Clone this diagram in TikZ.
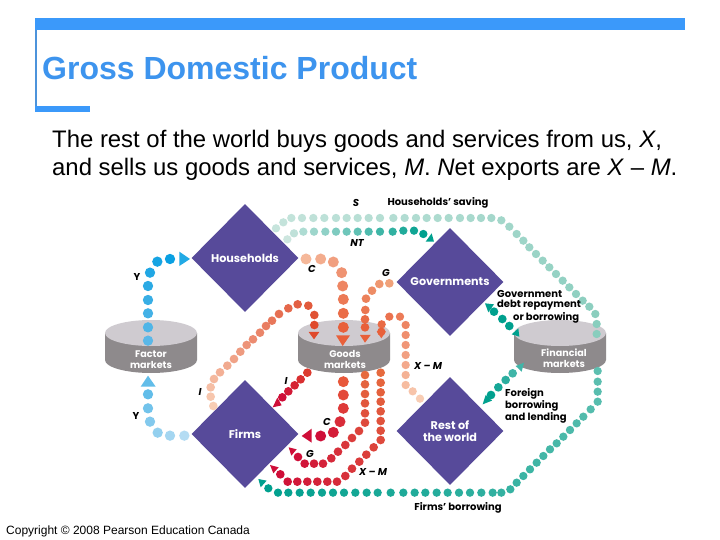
\documentclass[tikz,border=0pt]{standalone}
\usepackage{fontspec}
\setmainfont{Liberation Sans}
\newfontfamily\dg{Poppins}
\usetikzlibrary{shapes.geometric}
\definecolor{barblue}{HTML}{3B99FA}
\definecolor{titleblue}{HTML}{3D94EE}
\definecolor{dmdpurple}{HTML}{574A9A}
\definecolor{cyltop}{HTML}{CFCBD0}
\definecolor{cylside}{HTML}{8E8A8C}
\newcount\chaintotal
% radius, start colour, end colour, point list
\newcommand\chain[4]{%
  \global\chaintotal=0
  \foreach \p in {#4}{\global\advance\chaintotal by 1}%
  \foreach \p [count=\i] in {#4}{%
    \pgfmathtruncatemacro\t{100*(\i-1)/max(1,\the\chaintotal-1)}%
    \fill[#3!\t!#2] \p circle[radius=#1];}%
}
\newcommand\cyl[2]{% x centre, name
  \fill[cylside] (#1-46,333) -- (#1-46,360) arc[start angle=180,end angle=0,x radius=46,y radius=13] -- (#1+46,333) -- cycle;
  \fill[cyltop] (#1,333) ellipse[x radius=46,y radius=13];
}
\tikzset{
  dmd/.style={diamond,aspect=1,fill=dmdpurple,text=white,inner sep=0pt,minimum width=107pt,minimum height=108pt,align=center,font=\dg\bfseries\fontsize{11.2}{13}\selectfont},
  cyllabel/.style={text=white,align=center,inner sep=0pt,font=\dg\bfseries\fontsize{9.6}{11}\selectfont},
  lab/.style={inner sep=0pt,text=black,font=\dg\bfseries\fontsize{10}{12}\selectfont},
  vlab/.style={lab,font=\dg\bfseries\itshape\fontsize{10}{12}\selectfont},
  body/.style={inner sep=0pt,anchor=base west,font=\fontsize{23.9}{26}\selectfont},
}
\begin{document}
\begin{tikzpicture}[x=1pt,y=-1pt]
\useasboundingbox (0,0) rectangle (720,540);
\fill[white] (0,0) rectangle (720,540);
% frame
\fill[barblue] (35,18) rectangle (685,30);
\fill[barblue!75!gray] (35,30) rectangle (37,106);
\fill[barblue] (35,106) rectangle (90,112);
\node[inner sep=0pt,anchor=base west,text=titleblue,font=\bfseries\fontsize{32}{34}\selectfont] (title) at (42,80) {Gross Domestic Product};
\node[body] (line1) at (52,148) {The rest of the world buys goods and services from us, \textit{X},};
\node[body] (line2) at (52,176) {and sells us goods and services, \textit{M}. \textit{N}et exports are \textit{X} – \textit{M}.};
\node[inner sep=0pt,anchor=base west,font=\fontsize{12}{14}\selectfont] (copy) at (6,534) {Copyright © 2008 Pearson Education Canada};
% cylinders
\cyl{151}{f}
\cyl{344}{g}
\cyl{560}{n}
% diamonds
\node[dmd] (hh) at (245,258) {Households};
\node[dmd] (gv) at (450,282) {Governments};
\node[dmd] (fm) at (245,434) {Firms};
\node[dmd] (rw) at (450,431) {\raisebox{-2.5pt}{\shortstack{Rest of\\the world}}};
% flows, in 3x coordinates of the upper-left frame
\begin{scope}[shift={(90pt,-190pt)},x=0.33333pt,y=-0.33333pt]
\definecolor{ya}{HTML}{5AB8E8}\definecolor{yb}{HTML}{0AA0E2}
\chain{15.5}{ya}{yb}{(174,452),(174,412),(174,370),(174,330),(174,288),(180,248),(202,215),(240,207)}
\fill[yb!90!white] (300,207) -- (268,185) -- (268,228) -- cycle;
\definecolor{yc}{HTML}{B4DCF3}\definecolor{yd}{HTML}{62BDE9}
\chain{15.5}{yc}{yd}{(283,737),(240,737),(203,728),(180,695),(174,655),(174,613)}
\fill[yd] (174,557) -- (152,590) -- (197,590) -- cycle;
\definecolor{ca}{HTML}{F5B89A}\definecolor{cb}{HTML}{E8603A}
\chain{16.5}{ca}{cb}{(648,207),(692,207),(730,216),(755,248),(758,288),(760,328),(760,370),(760,412)}
\fill[cb] (758,468) -- (738,436) -- (780,436) -- cycle;
\definecolor{ia}{HTML}{F8CDB4}\definecolor{ib}{HTML}{DF4A2C}
\chain{13}{ia}{ib}{(370,648),(362,620),(362,592),(372,567),(390,547),(412,527),(432,507),(451,485),(470,465),(489,448),(510,428),(528,408),(546,392),(567,372),(595,355),(623,343),(655,347),(673,375),(673,405)}
\fill[ib] (672,448) -- (656,426) -- (688,426) -- cycle;
\definecolor{ic}{HTML}{DC3A2E}\definecolor{ired}{HTML}{CF0E38}
\chain{13}{ic}{ired}{(652,548),(632,568),(614,586),(595,604),(577,622)}
\fill[ired] (548,652) -- (575,646) -- (562,623) -- cycle;
\definecolor{cc}{HTML}{E8583A}
\chain{16.5}{cc}{ired}{(760,575),(760,615),(760,655),(750,695),(730,727),(692,738)}
\fill[ired] (635,738) -- (665,716) -- (665,758) -- cycle;
\definecolor{ga}{HTML}{E66A3E}
\chain{13}{ga}{ired}{(825,555),(825,583),(825,612),(825,640),(825,670),(825,698),(807,723),(786,744),(766,765),(744,785),(724,805),(699,821),(672,821),(644,821),(624,801)}
\fill[ired] (596,772) -- (620,778) -- (604,797) -- cycle;
\chain{13}{ga}{ired}{(872,548),(872,578),(872,607),(872,635),(872,664),(872,693),(872,722),(872,750),(851,772),(829,794),(808,815),(786,836),(766,858),(741,875),(712,875),(682,875),(652,875),(622,875),(593,875),(571,853)}
\fill[ired] (540,825) -- (566,832) -- (550,850) -- cycle;
\definecolor{ta}{HTML}{5DBFB0}\definecolor{tb}{HTML}{00A08E}
\chain{12.5}{ta}{tb}{(1523,543),(1523,575),(1523,605),(1523,635),(1502,658),(1480,680),(1460,700),(1440,720),(1420,740),(1400,760),(1380,778),(1360,798),(1340,818),(1320,838),(1300,858),(1280,878),(1261,898),(1234,908),(1208,908),(1174,908),(1140,908),(1107,908),(1073,908),(1040,908),(1006,908),(974,908),(940,908),(902,908),(863,908),(830,908),(796,908),(762,908),(729,908),(696,908),(662,908),(629,908),(595,908),(564,908),(535,895)}
\fill[tb] (505,867) -- (530,872) -- (512,892) -- cycle;
\definecolor{fa}{HTML}{40B5A8}
\chain{13}{fa}{tb}{(1268,550),(1247,570),(1225,592),(1203,615)}
\fill[fa] (1302,518) -- (1277,528) -- (1295,545) -- cycle;
\fill[tb] (1178,643) -- (1187,615) -- (1206,632) -- cycle;
\chain{13}{tb}{tb}{(1212,365),(1237,387),(1258,408)}
\fill[tb] (1185,340) -- (1212,343) -- (1195,367) -- cycle;
\fill[tb] (1288,440) -- (1265,433) -- (1285,415) -- cycle;
\definecolor{sa}{HTML}{88CDBD}\definecolor{sb}{HTML}{C6E4DC}
\chain{12.5}{sa}{sb}{(1520,432),(1520,402),(1516,372),(1498,350),(1478,332),(1458,312),(1438,292),(1418,272),(1398,252),(1378,232),(1358,212),(1338,192),(1318,172),(1300,152),(1280,132),(1258,110),(1234,91),(1204,84),(1173,84),(1142,84),(1110,84),(1076,84),(1043,84),(1010,84),(978,84),(944,84),(910,84),(870,84),(836,84),(803,84),(770,84),(738,84),(703,84),(670,84),(636,84),(604,84),(580,97),(558,115)}
\definecolor{na}{HTML}{CDE6DF}
\chain{12.5}{na}{tb}{(592,148),(612,130),(640,125),(672,125),(706,125),(738,125),(770,125),(803,125),(836,125),(870,125),(908,125),(940,122),(972,122),(1000,132)}
\fill[tb] (1032,155) -- (1007,155) -- (1025,130) -- cycle;
\definecolor{gb}{HTML}{F0A27A}
\chain{13}{gb}{cb}{(898,280),(868,282),(846,302),(828,326),(826,360),(825,388),(825,412)}
\fill[cb] (825,458) -- (810,435) -- (842,435) -- cycle;
\definecolor{xa}{HTML}{F8CDB4}
\chain{12.5}{xa}{cb}{(990,626),(968,604),(947,585),(947,555),(947,525),(947,495),(947,465),(947,435),(947,405),(930,380),(898,380),(875,403),(874,425)}
\fill[cb] (874,445) -- (860,424) -- (888,424) -- cycle;
\end{scope}
% cylinder labels
\node[cyllabel] (fl) at (151,359.5) {Factor\\markets};
\node[cyllabel] (gl) at (345,359.5) {Goods\\markets};
\node[cyllabel] (nl) at (564,358.5) {Financial\\markets};
% labels
\node[vlab] (s) at (356,203) {S};
\node[lab] (hs) at (438,203) {Households’ saving};
\node[vlab] (nt) at (357,243) {NT};
\node[vlab] (c1) at (312,269) {C};
\node[vlab] (g1) at (386,273) {G};
\node[lab] (y1) at (137,277) {Y};
\node[lab,anchor=west] (d1) at (497,293.5) {Government};
\node[lab,anchor=west] (d2) at (497,305.5) {debt repayment};
\node[lab,anchor=west] (d3) at (513,317.5) {or borrowing};
\node[vlab] (xm1) at (428,366) {X – M};
\node[vlab] (i1) at (286,381) {I};
\node[vlab] (i2) at (200,392) {I};
\node[lab] (y2) at (136,416) {Y};
\node[lab,anchor=west] (e1) at (505,394) {Foreign};
\node[lab,anchor=west] (e2) at (505,406) {borrowing};
\node[lab,anchor=west] (e3) at (505,418) {and lending};
\node[vlab] (c2) at (327,422) {C};
\node[vlab] (g2) at (310,454) {G};
\node[vlab] (xm2) at (373,472) {X – M};
\node[lab] (fb) at (458,507.5) {Firms’ borrowing};
\end{tikzpicture}
\end{document}
